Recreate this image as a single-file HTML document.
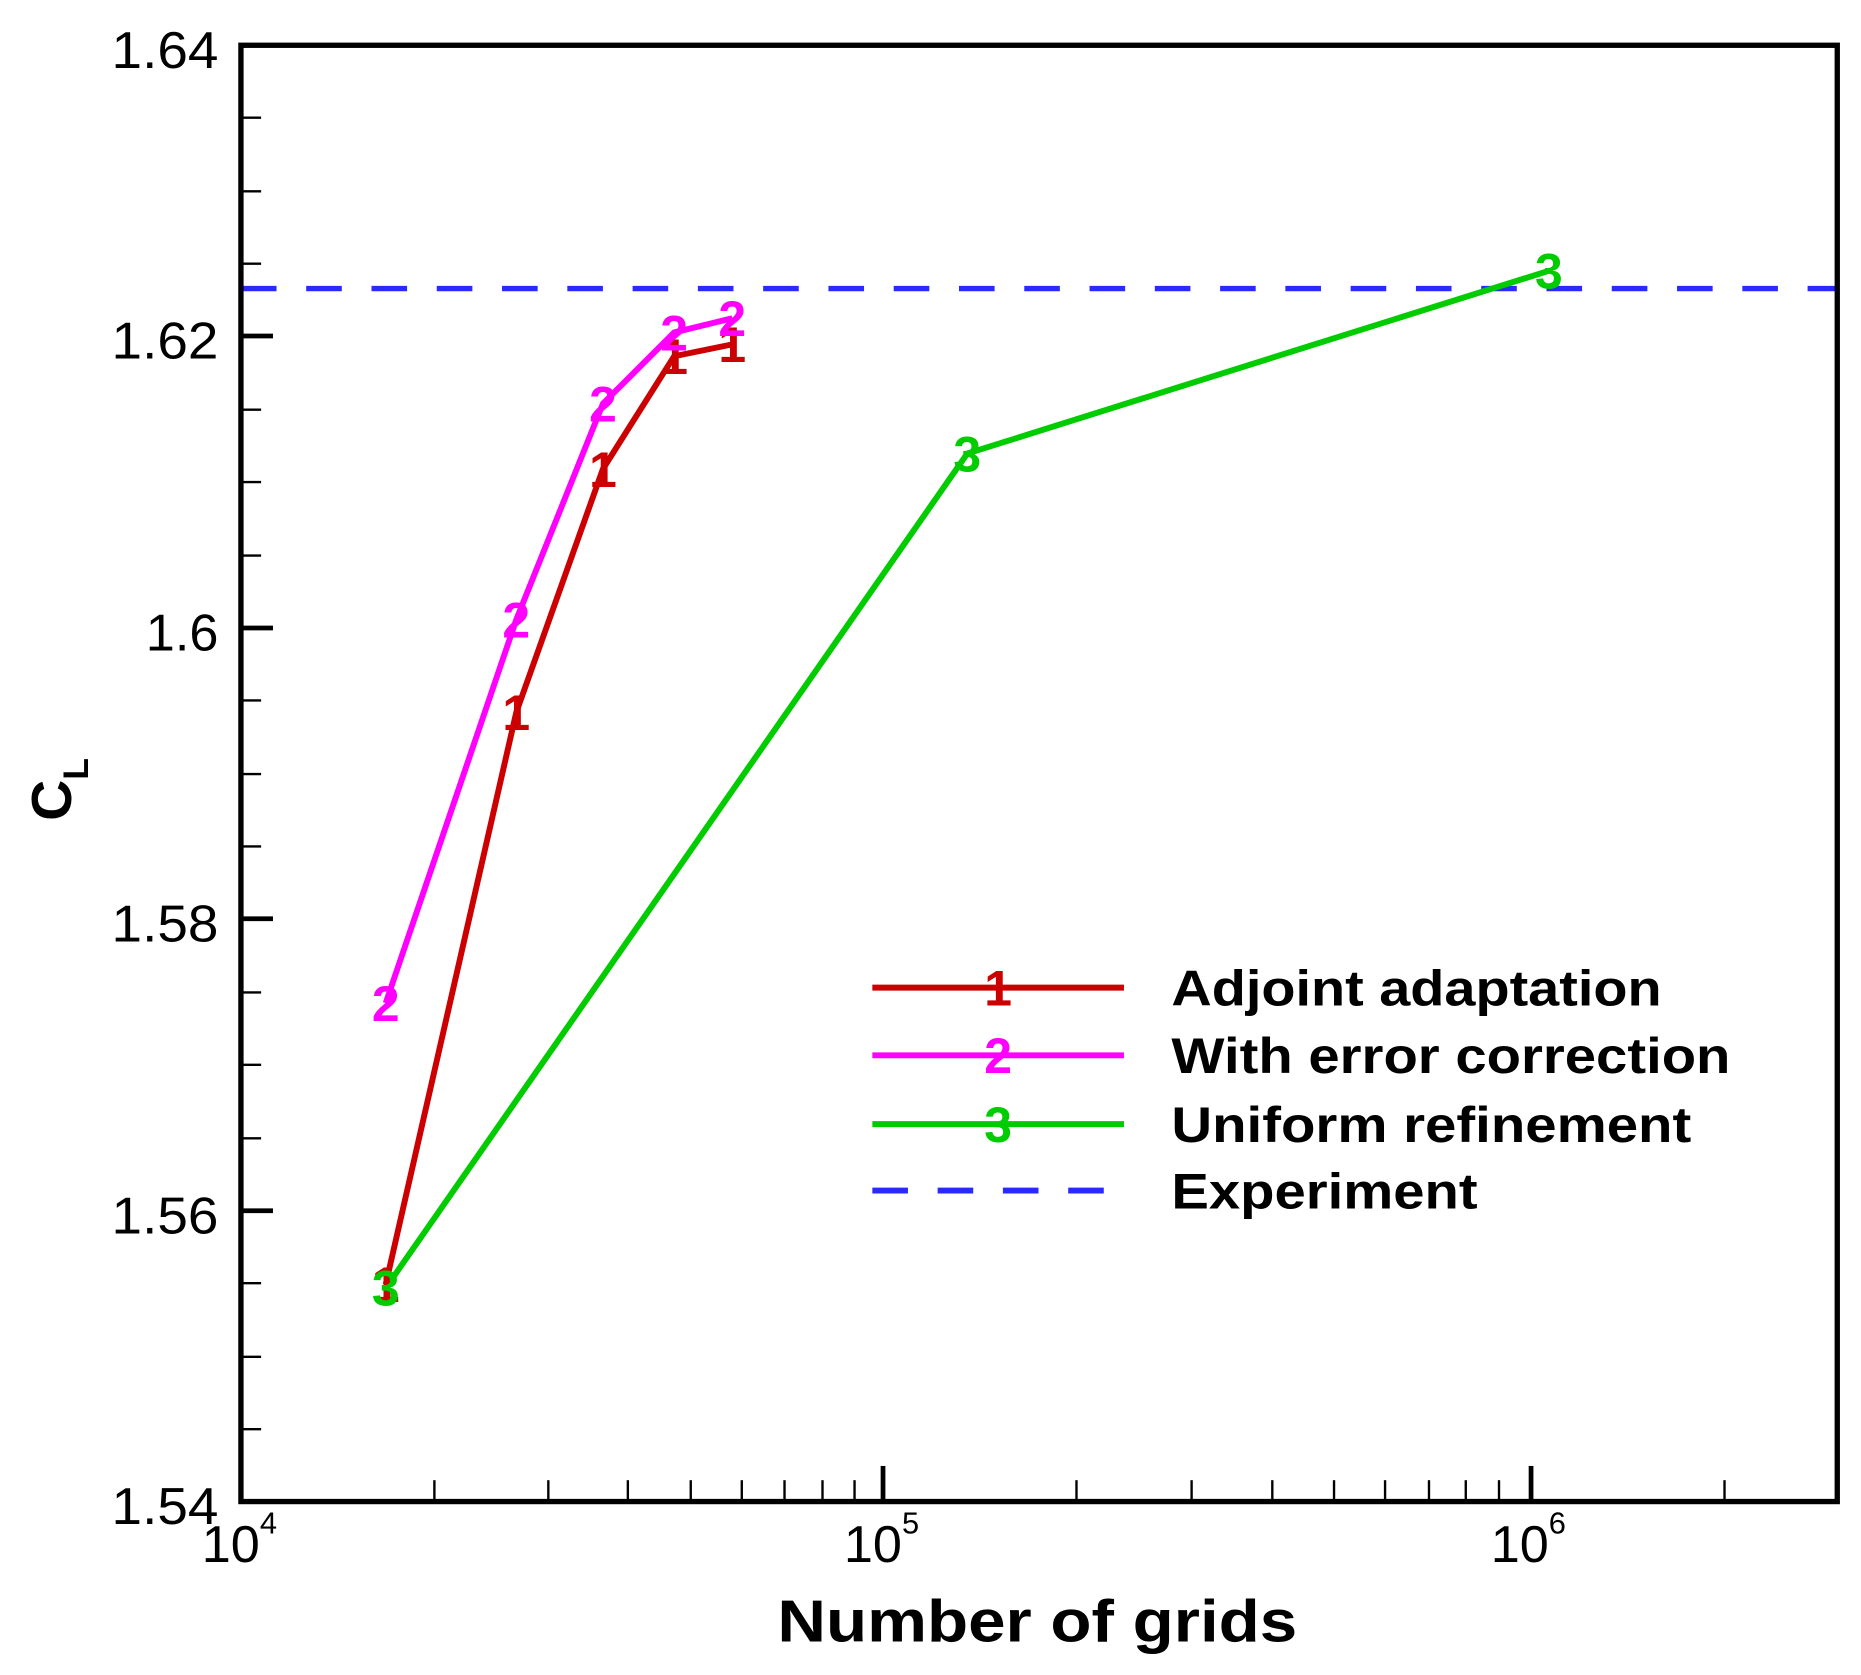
<!DOCTYPE html>
<html><head><style>html,body{margin:0;padding:0;background:#fff}svg{display:block}</style></head>
<body>
<svg width="1861" height="1675" viewBox="0 0 1568 1411" xmlns="http://www.w3.org/2000/svg" font-family="Liberation Sans, Arial, sans-serif">
<rect width="1568" height="1411" fill="#fff"/>
<line x1="203" y1="243" x2="1548" y2="243" stroke="#2a2aff" stroke-width="4.5" stroke-dasharray="30,25"/>
<polyline fill="none" stroke="#00cc00" stroke-width="5" points="325,1085 815,382 1305,228"/>
<polyline fill="none" stroke="#cc0000" stroke-width="5" points="325,1082 435,600 508,395 568,300 617,290"/>
<polyline fill="none" stroke="#ff00ff" stroke-width="5" points="325,845 435,522 508,340 568,280 617,268"/>
<g font-size="42" font-weight="bold" text-anchor="middle">
<g fill="#cc0000"><text x="325" y="1097">1</text><text x="435" y="615">1</text><text x="508" y="410">1</text><text x="568" y="315">1</text><text x="617" y="305">1</text></g>
<g fill="#ff00ff"><text x="325" y="860">2</text><text x="435" y="537">2</text><text x="508" y="355">2</text><text x="568" y="295">2</text><text x="617" y="283">2</text></g>
<g fill="#00cc00"><text x="325" y="1100">3</text><text x="815" y="397">3</text><text x="1305" y="243">3</text></g>
</g>
<rect x="203" y="38" width="1345" height="1227" fill="none" stroke="#000" stroke-width="4.5"/>
<g stroke="#000" stroke-width="2">
<line x1="203" y1="99" x2="220" y2="99"/><line x1="203" y1="161" x2="220" y2="161"/><line x1="203" y1="222" x2="220" y2="222"/>
<line x1="203" y1="345" x2="220" y2="345"/><line x1="203" y1="406" x2="220" y2="406"/><line x1="203" y1="468" x2="220" y2="468"/>
<line x1="203" y1="590" x2="220" y2="590"/><line x1="203" y1="652" x2="220" y2="652"/><line x1="203" y1="713" x2="220" y2="713"/>
<line x1="203" y1="836" x2="220" y2="836"/><line x1="203" y1="897" x2="220" y2="897"/><line x1="203" y1="959" x2="220" y2="959"/>
<line x1="203" y1="1081" x2="220" y2="1081"/><line x1="203" y1="1143" x2="220" y2="1143"/><line x1="203" y1="1204" x2="220" y2="1204"/>
</g>
<g stroke="#000" stroke-width="4">
<line x1="203" y1="283" x2="230" y2="283"/><line x1="203" y1="529" x2="230" y2="529"/><line x1="203" y1="774" x2="230" y2="774"/><line x1="203" y1="1020" x2="230" y2="1020"/>
<line x1="744" y1="1265" x2="744" y2="1235"/><line x1="1290" y1="1265" x2="1290" y2="1235"/>
</g>
<g stroke="#000" stroke-width="2">
<line x1="366" y1="1265" x2="366" y2="1247"/><line x1="462" y1="1265" x2="462" y2="1247"/><line x1="529" y1="1265" x2="529" y2="1247"/><line x1="582" y1="1265" x2="582" y2="1247"/><line x1="625" y1="1265" x2="625" y2="1247"/><line x1="661" y1="1265" x2="661" y2="1247"/><line x1="693" y1="1265" x2="693" y2="1247"/><line x1="720" y1="1265" x2="720" y2="1247"/>
<line x1="907" y1="1265" x2="907" y2="1247"/><line x1="1004" y1="1265" x2="1004" y2="1247"/><line x1="1072" y1="1265" x2="1072" y2="1247"/><line x1="1124" y1="1265" x2="1124" y2="1247"/><line x1="1167" y1="1265" x2="1167" y2="1247"/><line x1="1204" y1="1265" x2="1204" y2="1247"/><line x1="1235" y1="1265" x2="1235" y2="1247"/><line x1="1263" y1="1265" x2="1263" y2="1247"/>
<line x1="1453" y1="1265" x2="1453" y2="1247"/>
</g>
<g font-size="44" text-anchor="end">
<text x="184" y="57" textLength="90" lengthAdjust="spacingAndGlyphs">1.64</text><text x="184" y="302" textLength="90" lengthAdjust="spacingAndGlyphs">1.62</text><text x="184" y="548">1.6</text><text x="184" y="793" textLength="90" lengthAdjust="spacingAndGlyphs">1.58</text><text x="184" y="1039" textLength="90" lengthAdjust="spacingAndGlyphs">1.56</text><text x="184" y="1284" textLength="90" lengthAdjust="spacingAndGlyphs">1.54</text>
</g>
<g font-size="44">
<text x="170" y="1316">10<tspan font-size="26" dy="-24">4</tspan></text>
<text x="711" y="1316">10<tspan font-size="26" dy="-24">5</tspan></text>
<text x="1256" y="1316">10<tspan font-size="26" dy="-24">6</tspan></text>
</g>
<text x="655" y="1383" font-size="50" font-weight="bold" textLength="438" lengthAdjust="spacingAndGlyphs">Number of grids</text>
<text transform="translate(60,665) rotate(-90)" font-size="48" font-weight="bold" text-anchor="middle">C<tspan font-size="30" dy="14">L</tspan></text>
<g stroke-width="5">
<line x1="735" y1="832" x2="947" y2="832" stroke="#cc0000"/>
<line x1="735" y1="889" x2="947" y2="889" stroke="#ff00ff"/>
<line x1="735" y1="947" x2="947" y2="947" stroke="#00cc00"/>
<line x1="735" y1="1003" x2="947" y2="1003" stroke="#2a2aff" stroke-dasharray="30,25"/>
</g>
<g font-size="42" font-weight="bold" text-anchor="middle">
<text x="841" y="847" fill="#cc0000">1</text><text x="841" y="904" fill="#ff00ff">2</text><text x="841" y="962" fill="#00cc00">3</text>
</g>
<g font-size="42" font-weight="bold" lengthAdjust="spacingAndGlyphs">
<text x="987" y="847" textLength="413" lengthAdjust="spacingAndGlyphs">Adjoint adaptation</text>
<text x="987" y="904" textLength="471" lengthAdjust="spacingAndGlyphs">With error correction</text>
<text x="987" y="962" textLength="438" lengthAdjust="spacingAndGlyphs">Uniform refinement</text>
<text x="987" y="1018" textLength="258" lengthAdjust="spacingAndGlyphs">Experiment</text>
</g>
</svg>
</body></html>
